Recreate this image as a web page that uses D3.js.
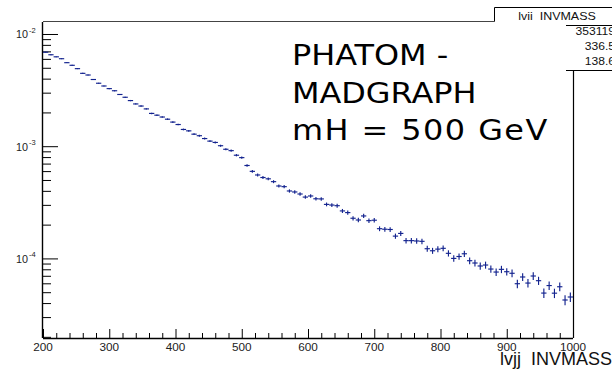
<!DOCTYPE html>
<html><head><meta charset="utf-8">
<script src="https://cdn.jsdelivr.net/npm/d3@7"></script>
<style>body{margin:0;background:#fff}svg{display:block}</style>
</head><body>
<script>
// ---- data ----
const binStart = 200, binWidth = 8;              // 100 bins, 200..1000
const values = [
 6.88e-3,6.53e-3,6.26e-3,6.02e-3,5.55e-3,5.26e-3,4.91e-3,4.46e-3,4.31e-3,3.93e-3,
 3.64e-3,3.44e-3,3.26e-3,3.12e-3,2.89e-3,2.73e-3,2.55e-3,2.38e-3,2.28e-3,2.15e-3,
 1.96e-3,1.89e-3,1.82e-3,1.74e-3,1.64e-3,1.56e-3,1.41e-3,1.37e-3,1.28e-3,1.24e-3,
 1.17e-3,1.11e-3,1.08e-3,1.01e-3,9.39e-4,9.13e-4,8.31e-4,7.91e-4,6.73e-4,5.97e-4,
 5.54e-4,5.26e-4,5.12e-4,4.83e-4,4.42e-4,4.36e-4,3.99e-4,3.91e-4,3.75e-4,3.52e-4,
 3.60e-4,3.40e-4,3.39e-4,3.03e-4,2.99e-4,2.95e-4,2.65e-4,2.56e-4,2.28e-4,2.20e-4,
 2.39e-4,2.17e-4,2.19e-4,1.84e-4,1.82e-4,1.81e-4,1.58e-4,1.67e-4,1.44e-4,1.44e-4,
 1.43e-4,1.42e-4,1.22e-4,1.17e-4,1.21e-4,1.23e-4,1.11e-4,1.00e-4,1.04e-4,1.10e-4,
 9.54e-5,9.10e-5,8.56e-5,8.73e-5,8.04e-5,7.56e-5,7.99e-5,7.61e-5,7.37e-5,5.95e-5,
 6.83e-5,6.03e-5,6.97e-5,6.33e-5,4.91e-5,5.73e-5,4.90e-5,5.59e-5,4.26e-5,4.53e-5];
const errors = [ // in units of 1e-6
 55.6,54.1,53.0,52.0,49.9,48.6,46.9,44.7,44.0,42.0,
 40.4,39.3,38.3,37.4,36.0,35.0,33.8,32.7,32.0,31.1,
 29.7,29.1,28.6,27.9,27.1,26.5,25.2,24.8,24.0,23.6,
 22.9,22.3,22.0,21.3,20.5,20.2,19.3,18.8,17.4,16.4,
 15.8,15.4,15.2,14.7,14.1,14.0,13.4,13.2,13.0,12.6,
 12.7,12.4,12.3,11.7,11.6,11.5,10.9,10.7,10.1,9.9,
 10.4,9.9,9.9,9.1,9.0,9.0,8.4,8.7,8.0,8.0,
 8.0,8.0,7.4,7.2,7.4,7.4,7.1,6.7,6.8,7.0,
 6.5,6.4,6.2,6.3,6.0,5.8,6.0,5.8,5.8,5.2,
 5.5,5.2,5.6,5.3,4.7,5.1,4.7,5.0,4.4,4.5];
const xTickValues = [200,300,400,500,600,700,800,900,1000];
const xTickLabels = ["200","300","400","500","600","700","800","900","1000"];
const yTickValues = [1e-4,1e-3,1e-2];
const yTickExponents = ["-4","-3","-2"];
const statsTitle = "lvii  INVMASS";
const statsValues = ["353119","336.5","138.6"];
const xTitle = "lvjj  INVMASS";
const noteLines = ["PHATOM -","MADGRAPH","mH = 500 GeV"];

// ---- layout ----
const W = 612, H = 372;
const L = 43, R = 573, T = 22, B = 338;
const svg = d3.select("body").append("svg").attr("width", W).attr("height", H);

const x = d3.scaleLinear().domain([200, 1000]).range([L, R]);
const y = d3.scaleLog().domain([1.953e-5, 1.279e-2]).range([B, T]);

const ink = "#000", lbl = "#222";
const sans = "Liberation Sans, Arial, sans-serif";

// frame pieces
svg.append("line").attr("x1", L).attr("x2", 494.5).attr("y1", 21.5).attr("y2", 21.5)
  .attr("stroke", "#444").attr("stroke-width", 1);
svg.append("line").attr("x1", 573.5).attr("x2", 573.5).attr("y1", 70.5).attr("y2", B)
  .attr("stroke", ink).attr("stroke-width", 1.2);

// x axis (ticks pointing up)
const xMinor = d3.range(200, 1001, 20).filter(v => v % 100 !== 0);
const gx = svg.append("g").attr("transform", `translate(0,${B})`);
gx.call(d3.axisBottom(x).tickValues(xMinor).tickSize(-5).tickFormat(""));
gx.call(g => g.select(".domain").remove());
const gx2 = svg.append("g").attr("transform", `translate(0,${B})`);
gx2.call(d3.axisBottom(x).tickValues(xTickValues).tickSize(-9).tickFormat(""));
gx2.select(".domain").attr("stroke", ink).attr("stroke-width", 1.4).attr("d", `M${L},0.5H${R}`);
svg.selectAll(".tick line").attr("stroke", ink).attr("stroke-width", 1);
xTickValues.forEach((v, i) => {
  svg.append("text").attr("transform", `translate(${x(v)},${B + 13}) scale(1.12,1)`)
    .attr("text-anchor", "middle").attr("font-family", sans)
    .attr("font-size", 10.5).attr("fill", lbl).text(xTickLabels[i]);
});
svg.append("text").attr("transform", `translate(612,${B + 27})`)
  .attr("text-anchor", "end").attr("font-family", sans)
  .attr("font-size", 18).attr("fill", "#111").attr("xml:space", "preserve").text(xTitle);

// y axis (ticks pointing right)
const yMinor = y.ticks().filter(v => {
  const m = Math.round(v / Math.pow(10, Math.floor(Math.log10(v) + 1e-9)));
  return m !== 1;
});
const gy = svg.append("g").attr("transform", `translate(${L},0)`);
gy.call(d3.axisLeft(y).tickValues(yMinor).tickSize(-8).tickFormat(""));
gy.call(g => g.select(".domain").remove());
const gy2 = svg.append("g").attr("transform", `translate(${L},0)`);
gy2.call(d3.axisLeft(y).tickValues(yTickValues).tickSize(-15).tickFormat(""));
gy2.select(".domain").attr("stroke", ink).attr("stroke-width", 1.4).attr("d", `M-0.5,${T}V${B}`);
svg.selectAll(".tick line").attr("stroke", ink).attr("stroke-width", 1);
yTickValues.forEach((v, i) => {
  svg.append("text").attr("transform", `translate(28,${y(v) + 4.5}) scale(1.08,1)`)
    .attr("text-anchor", "end").attr("font-family", sans)
    .attr("font-size", 10).attr("fill", lbl).text("10");
  svg.append("text").attr("transform", `translate(29,${y(v) - 1}) scale(1.08,1)`)
    .attr("font-family", sans)
    .attr("font-size", 7).attr("fill", lbl).text(yTickExponents[i]);
});

// data: error-bar crosses
const col = "#13238f";
const gd = svg.append("g").attr("stroke", col).attr("stroke-width", 1.15);
values.forEach((v, i) => {
  const lo = binStart + i * binWidth, hi = lo + binWidth, c = lo + binWidth / 2;
  const e = errors[i] * 1e-6;
  gd.append("line").attr("x1", x(lo)).attr("x2", x(hi)).attr("y1", y(v)).attr("y2", y(v));
  gd.append("line").attr("x1", x(c)).attr("x2", x(c)).attr("y1", y(v + e)).attr("y2", y(Math.max(v - e, 1e-7)));
});

// stats box
svg.append("path").attr("d", "M494.5,21.5V7.5H612").attr("fill", "none").attr("stroke", ink).attr("stroke-width", 1);
svg.append("path").attr("d", "M566,25.5H612M566,70.5H612").attr("fill", "none").attr("stroke", ink).attr("stroke-width", 1);
svg.append("text").attr("transform", "translate(557,20) scale(1.25,1)")
  .attr("text-anchor", "middle").attr("font-family", sans)
  .attr("font-size", 10).attr("fill", "#111").attr("xml:space", "preserve").text(statsTitle);
statsValues.forEach((s, i) => {
  svg.append("text").attr("transform", `translate(615,${35 + i * 15}) scale(1.1,1)`)
    .attr("text-anchor", "end").attr("font-family", sans)
    .attr("font-size", 11).attr("fill", "#111").text(s);
});

// annotation
const noteWidths = [null, null, 232];
noteLines.forEach((s, i) => {
  const t = svg.append("text").attr("transform", `translate(292,${65 + i * 37.5}) scale(1.1,1)`)
    .attr("font-family", "DejaVu Sans, Verdana, sans-serif")
    .attr("font-size", 29).attr("fill", "#000").attr("xml:space", "preserve").text(s);
  if (noteWidths[i]) t.attr("textLength", noteWidths[i]).attr("lengthAdjust", "spacing");
});
</script>
</body></html>
